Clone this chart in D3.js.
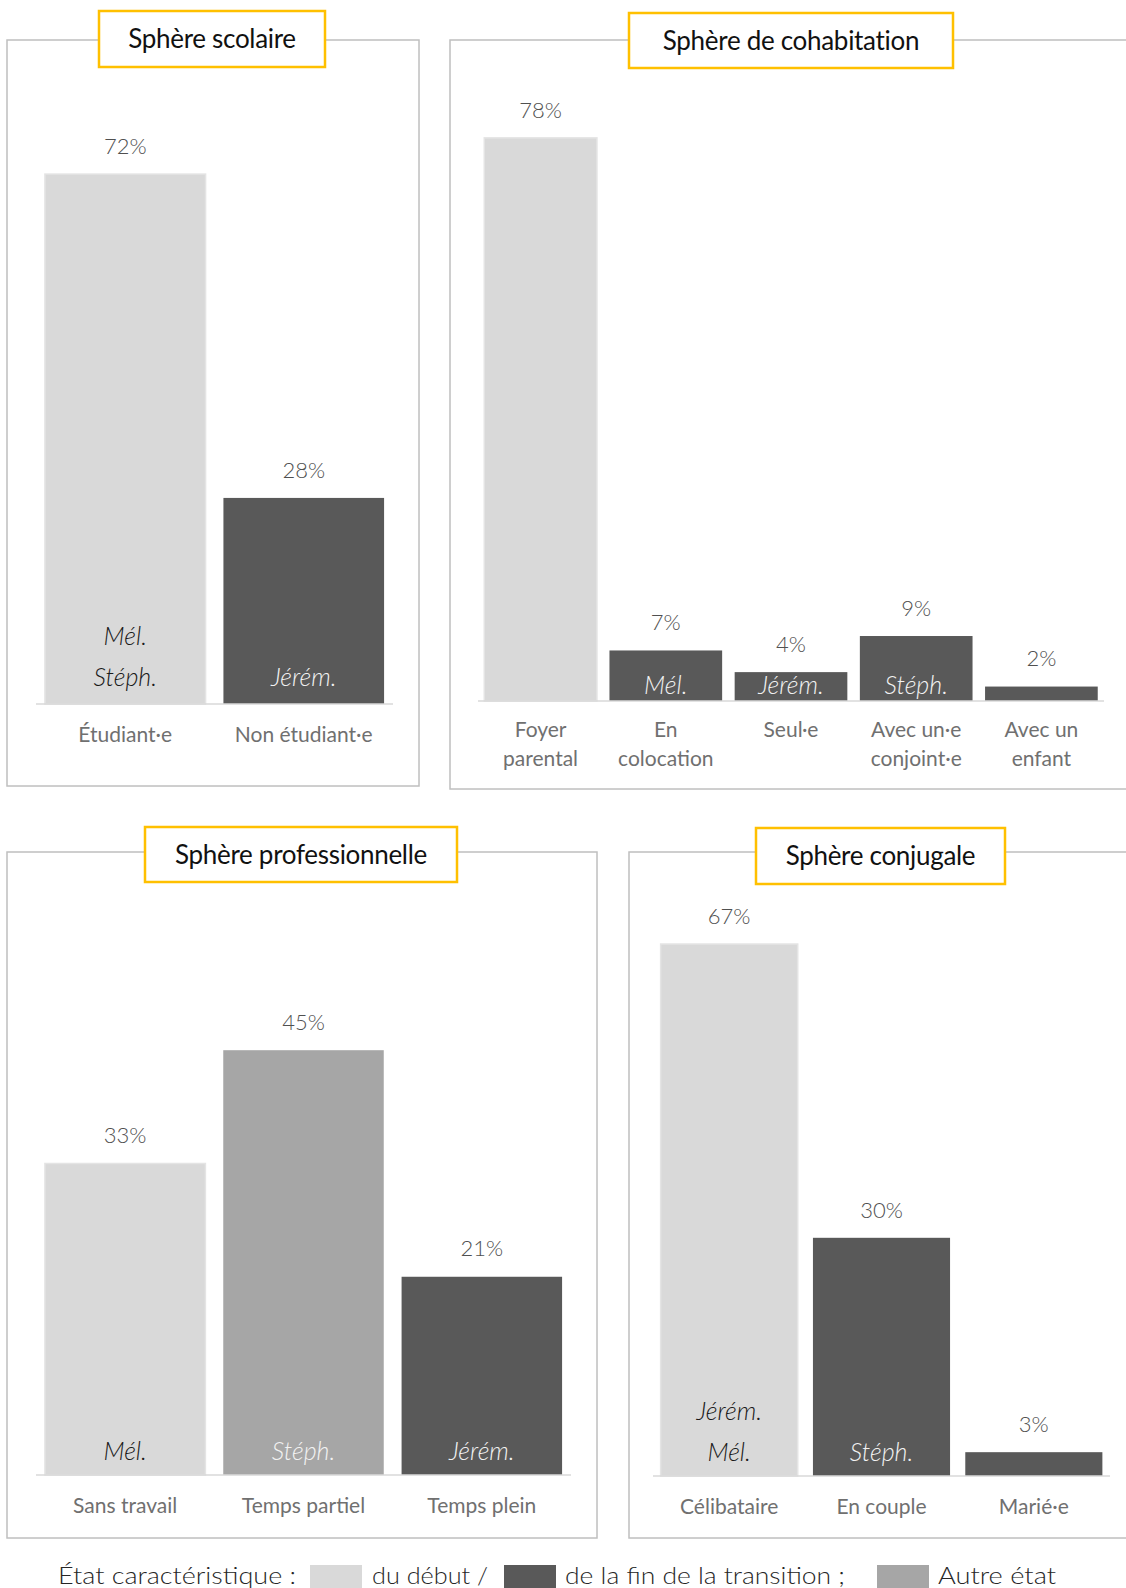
<!DOCTYPE html>
<html>
<head>
<meta charset="utf-8">
<script src="https://cdn.jsdelivr.net/npm/d3@7"></script>
<style>
  body { margin: 0; background: #fff; }
  svg { display: block; font-family: Lato, "Open Sans", sans-serif; }
</style>
</head>
<body>
<div id="chart"></div>
<script>
// Sphère scolaire
const scolaireCategories = [["Étudiant·e"], ["Non étudiant·e"]];
const scolaireValues = [72, 28];
const scolaireStates = ["debut", "fin"];
const scolaireNames = [["Mél.", "Stéph."], ["Jérém."]];

// Sphère de cohabitation
const cohabCategories = [["Foyer", "parental"], ["En", "colocation"], ["Seul·e"], ["Avec un·e", "conjoint·e"], ["Avec un", "enfant"]];
const cohabValues = [78, 7, 4, 9, 2];
const cohabStates = ["debut", "fin", "fin", "fin", "fin"];
const cohabNames = [[], ["Mél."], ["Jérém."], ["Stéph."], []];

// Sphère professionnelle
const proCategories = [["Sans travail"], ["Temps partiel"], ["Temps plein"]];
const proValues = [33, 45, 21];
const proStates = ["debut", "autre", "fin"];
const proNames = [["Mél."], ["Stéph."], ["Jérém."]];

// Sphère conjugale
const conjCategories = [["Célibataire"], ["En couple"], ["Marié·e"]];
const conjValues = [67, 30, 3];
const conjStates = ["debut", "fin", "fin"];
const conjNames = [["Jérém.", "Mél."], ["Stéph."], []];

const legendItems = ["du début /", "de la fin de la transition ;", "Autre état"];

const stateColor = { debut: "#d9d9d9", fin: "#595959", autre: "#a6a6a6" };
const nameColor = { debut: "#1a1a1a", fin: "#f2f2f2", autre: "#f2f2f2" };

const width = 1126, height = 1588;
const svg = d3.select('#chart').append('svg')
    .attr('width', width)
    .attr('height', height);

// layout of each panel
const panels = [
    { title: "Sphère scolaire", cats: scolaireCategories, vals: scolaireValues, states: scolaireStates, names: scolaireNames,
      frame: [7, 40, 412, 746], box: [99, 11, 226, 56], x0: 36, x1: 393, base: 704, k: 7.36, nameOff: 27 },
    { title: "Sphère de cohabitation", cats: cohabCategories, vals: cohabValues, states: cohabStates, names: cohabNames,
      frame: [450, 40, 690, 749], box: [629, 13, 324, 55], x0: 478, x1: 1104, base: 701, k: 7.22, nameOff: 16 },
    { title: "Sphère professionnelle", cats: proCategories, vals: proValues, states: proStates, names: proNames,
      frame: [7, 852, 590, 686], box: [145, 827, 312, 55], x0: 36, x1: 571, base: 1475, k: 9.44, nameOff: 24 },
    { title: "Sphère conjugale", cats: conjCategories, vals: conjValues, states: conjStates, names: conjNames,
      frame: [629, 852, 510, 686], box: [756, 828, 249, 56], x0: 653, x1: 1110, base: 1476, k: 7.94, nameOff: 24 }
];

panels.forEach(p => {
    const g = svg.append('g');

    // frame
    g.append('rect')
        .attr('x', p.frame[0]).attr('y', p.frame[1])
        .attr('width', p.frame[2]).attr('height', p.frame[3])
        .attr('fill', 'none')
        .attr('stroke', '#bfbfbf')
        .attr('stroke-width', 1.5);

    const x = d3.scaleBand()
        .domain(d3.range(p.vals.length))
        .range([p.x0, p.x1])
        .paddingInner(0.1)
        .paddingOuter(0.05);
    const y = d3.scaleLinear()
        .domain([0, 100])
        .range([p.base, p.base - 100 * p.k]);

    // bars
    g.selectAll('rect.bar')
        .data(p.vals)
        .join('rect')
        .attr('class', 'bar')
        .attr('x', (d, i) => x(i))
        .attr('y', d => y(d))
        .attr('width', x.bandwidth())
        .attr('height', d => y(0) - y(d))
        .attr('fill', (d, i) => stateColor[p.states[i]])
        .attr('stroke', (d, i) => p.states[i] === 'debut' ? '#e4e4e4' : 'none')
        .attr('stroke-width', 1.5);

    // baseline
    g.append('line')
        .attr('x1', p.x0).attr('x2', p.x1)
        .attr('y1', y(0)).attr('y2', y(0))
        .attr('stroke', '#d9d9d9')
        .attr('stroke-width', 1.5);

    // value labels
    g.selectAll('text.val')
        .data(p.vals)
        .join('text')
        .attr('class', 'val')
        .attr('x', (d, i) => x(i) + x.bandwidth() / 2)
        .attr('y', d => y(d) - 28)
        .attr('dy', '0.35em')
        .attr('text-anchor', 'middle')
        .attr('font-size', 22)
        .attr('font-weight', 300)
        .attr('fill', '#505050')
        .text(d => d + '%');

    // category labels
    p.cats.forEach((lines, i) => {
        lines.forEach((line, j) => {
            g.append('text')
                .attr('x', x(i) + x.bandwidth() / 2)
                .attr('y', y(0) + (p.cats.length > 3 ? 29 : 31) + j * 29)
                .attr('dy', '0.35em')
                .attr('text-anchor', 'middle')
                .attr('font-size', 21)
                .attr('fill', '#707070')
                .text(line);
        });
    });

    // names inside bars
    p.names.forEach((names, i) => {
        const n = names.length;
        names.forEach((nm, j) => {
            g.append('text')
                .attr('x', x(i) + x.bandwidth() / 2)
                .attr('y', y(0) - p.nameOff - (n - 1 - j) * 41)
                .attr('dy', '0.35em')
                .attr('text-anchor', 'middle')
                .attr('font-size', 25)
                .attr('font-style', 'italic')
                .attr('font-weight', 300)
                .attr('fill', nameColor[p.states[i]])
                .text(nm);
        });
    });

    // title box
    g.append('rect')
        .attr('x', p.box[0]).attr('y', p.box[1])
        .attr('width', p.box[2]).attr('height', p.box[3])
        .attr('fill', '#fff')
        .attr('stroke', '#ffc000')
        .attr('stroke-width', 2.5);
    g.append('text')
        .attr('x', p.box[0] + p.box[2] / 2)
        .attr('y', p.box[1] + p.box[3] / 2)
        .attr('dy', '0.35em')
        .attr('text-anchor', 'middle')
        .attr('font-size', 26)
        .attr('fill', '#111')
        .attr('letter-spacing', -0.3)
        .text(p.title);
});

// legend
const legend = svg.append('g').attr('font-size', 24).attr('fill', '#262626').attr('font-weight', 300);
const legendY = 1576;
legend.append('text')
    .attr('x', 58).attr('y', legendY).attr('dy', '0.35em')
    .attr('textLength', 238).attr('lengthAdjust', 'spacingAndGlyphs')
    .text("État caractéristique :");

const legendSwatchX = [310, 504, 877];
const legendTextX = [372, 565, 938];
const legendTextW = [116, 280, 118];
const legendStates = ["debut", "fin", "autre"];
legendItems.forEach((label, i) => {
    legend.append('rect')
        .attr('x', legendSwatchX[i]).attr('y', legendY - 11)
        .attr('width', 52).attr('height', 26)
        .attr('fill', stateColor[legendStates[i]]);
    legend.append('text')
        .attr('x', legendTextX[i]).attr('y', legendY).attr('dy', '0.35em')
        .attr('textLength', legendTextW[i]).attr('lengthAdjust', 'spacingAndGlyphs')
        .text(label);
});
</script>
</body>
</html>
